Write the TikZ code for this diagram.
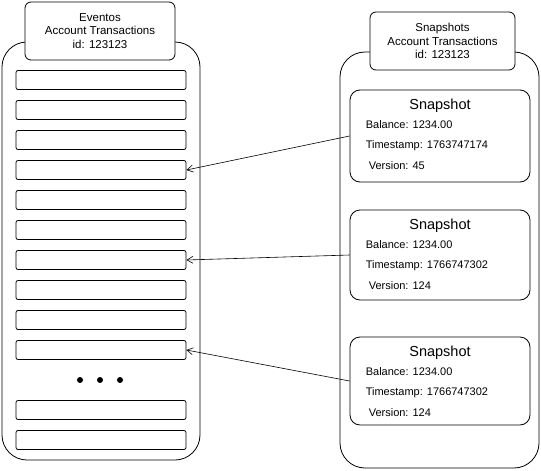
\documentclass[tikz,border=0pt]{standalone}
\usepackage{fontspec}
\setmainfont{Liberation Sans}
\usetikzlibrary{arrows.meta}
\begin{document}
\begin{tikzpicture}[x=1pt,y=-1pt,
  bigbox/.style={draw,thick,rounded corners=25pt,inner sep=0pt},
  headbox/.style={draw,thick,rounded corners=6pt,fill=white,inner sep=0pt,
    font=\fontsize{11.5}{13.5}\selectfont,align=center},
  row/.style={draw,thick,rounded corners=2pt,minimum width=170pt,minimum height=19pt,inner sep=0pt},
  snapbox/.style={draw,thick,rounded corners=10pt,minimum width=180pt,inner sep=0pt},
  snaptxt/.style={font=\fontsize{11}{13}\selectfont,anchor=west,inner sep=0pt},
  link/.style={semithick,-{Straight Barb[length=6pt,width=7pt]}}]
\useasboundingbox (0,0) rectangle (541,471);
% event store
\node[bigbox,minimum width=198pt,minimum height=418pt] (eventos) at (101,251) {};
\node[headbox,minimum width=150pt,minimum height=58pt] (evhead) at (100,31)
  {Eventos\\Account Transactions\\id: 123123};
\foreach \i in {1,...,10}
  \node[row] (r\i) at (101,50+30*\i) {};
\node[row] (r11) at (101,410) {};
\node[row] (r12) at (101,440) {};
\foreach \x in {80,100,120}
  \fill (\x,380) circle (3pt);
% snapshot store
\node[bigbox,minimum width=199pt,minimum height=416pt] (snapshots) at (439.5,260) {};
\node[headbox,minimum width=145pt,minimum height=58pt] (snhead) at (442.5,41)
  {Snapshots\\Account Transactions\\id: 123123};
\foreach \s/\y/\h/\t/\v in {1/136/92/1763747174/45,2/255/90/1766747302/124,3/381/88/1766747302/124}{
  \node[snapbox,minimum height=\h pt] (snap\s) at (440,\y) {};
  \node[font=\fontsize{14.5}{16}\selectfont] at ([shift={(0,16)}]snap\s.north) {Snapshot};
  \node[snaptxt] at ([shift={(16,35)}]snap\s.north west) {Balance: 1234.00};
  \node[snaptxt] at ([shift={(16,56)}]snap\s.north west) {Timestamp: \t};
  \node[snaptxt] at ([shift={(19,76)}]snap\s.north west) {Version: \v};
}
% links
\draw[link] (snap1.west) -- (r4.east);
\draw[link] (snap2.west) -- (r7.east);
\draw[link] (snap3.west) -- (r10.east);
\end{tikzpicture}
\end{document}
